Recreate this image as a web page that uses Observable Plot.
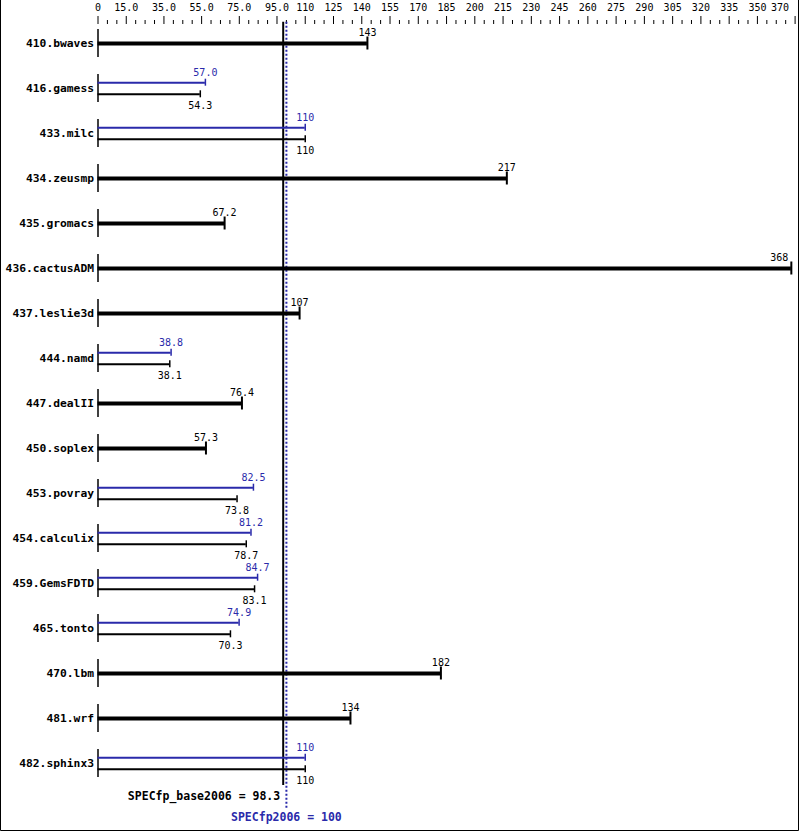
<!DOCTYPE html>
<html><head><meta charset="utf-8">
<script src="https://cdn.jsdelivr.net/npm/d3@7"></script>
<script src="https://cdn.jsdelivr.net/npm/@observablehq/plot@0.6"></script>
<style>
body{margin:0;background:#fff;}
svg{display:block;}
</style>
</head><body>
<div id="chart"></div>
<script>
const benchmarks = ["410.bwaves","416.gamess","433.milc","434.zeusmp","435.gromacs","436.cactusADM","437.leslie3d","444.namd","447.dealII","450.soplex","453.povray","454.calculix","459.GemsFDTD","465.tonto","470.lbm","481.wrf","482.sphinx3"];
const baseValues = [143,54.3,110,217,67.2,368,107,38.1,76.4,57.3,73.8,78.7,83.1,70.3,182,134,110];
const baseLabels = ["143","54.3","110","217","67.2","368","107","38.1","76.4","57.3","73.8","78.7","83.1","70.3","182","134","110"];
const peakValues = [null,57.0,110,null,null,null,null,38.8,null,null,82.5,81.2,84.7,74.9,null,null,110];
const peakLabels = [null,"57.0","110",null,null,null,null,"38.8",null,null,"82.5","81.2","84.7","74.9",null,null,"110"];
const tickValues = [0,15,35,55,75,95,110,125,140,155,170,185,200,215,230,245,260,275,290,305,320,335,350,370];
const tickLabels = ["0","15.0","35.0","55.0","75.0","95.0","110","125","140","155","170","185","200","215","230","245","260","275","290","305","320","335","350","370"];
const minorTicks = d3.range(5, 370, 5).filter(v => !tickValues.includes(v));
const specBase = 98.3, specPeak = 100;
const specBaseLabel = "SPECfp_base2006 = 98.3";
const specPeakLabel = "SPECfp2006 = 100";

const BLUE = "#2a2aaa";
const FONT = "DejaVu Sans Mono, monospace";
const off = 5.8/45;
const XMAX = 370;

const bars = [];
benchmarks.forEach((b, i) => {
  if (peakValues[i] == null) {
    bars.push({i, yy: i, v: baseValues[i], label: baseLabels[i], kind: "single"});
  } else {
    bars.push({i, yy: i - off, v: peakValues[i], label: peakLabels[i], kind: "peak"});
    bars.push({i, yy: i + off, v: baseValues[i], label: baseLabels[i], kind: "base"});
  }
});
const single = bars.filter(d => d.kind === "single");
const singleMid = single.filter(d => d.v < 355);
const singleEdge = single.filter(d => d.v >= 355);
const peak = bars.filter(d => d.kind === "peak");
const base = bars.filter(d => d.kind === "base");
const rows = benchmarks.map((b, i) => ({i, b}));
const majorMid = tickValues.slice(0, -1).map((v, k) => ({v, t: tickLabels[k]}));
const majorLast = [{v: tickValues[tickValues.length-1], t: tickLabels[tickLabels.length-1]}];

const chart = Plot.plot({
  width: 799, height: 831,
  marginTop: 23, marginLeft: 0, marginRight: 0, marginBottom: 0,
  style: {fontFamily: FONT, background: "#fff", overflow: "visible"},
  x: {domain: [0, XMAX], range: [97.5, 794.6], axis: null},
  y: {domain: [0, 16], range: [43, 763], axis: null},
  marks: [
    Plot.axisX({anchor: "top", ticks: minorTicks, tickSize: 4, tickFormat: () => "", label: null, strokeWidth: 1}),
    Plot.axisX({anchor: "top", ticks: tickValues, tickSize: 8, tickFormat: () => "", label: null, strokeWidth: 1}),
    Plot.text(majorMid, {x: "v", y: () => -0.8, text: "t", fontSize: 10, fill: "#000"}),
    Plot.text(majorLast, {x: "v", y: () => -0.8, text: "t", textAnchor: "end", dx: -6, fontSize: 10, fill: "#000"}),
    // row axis ticks
    Plot.ruleX(rows, {x: () => 0, y1: d => d.i - 0.31, y2: d => d.i + 0.31, stroke: "#000", strokeWidth: 1.5}),
    Plot.text(rows, {x: () => 0, y: "i", text: "b", textAnchor: "end", dx: -4, fontWeight: "bold", fontSize: 11.3, fill: "#000"}),
    // reference lines
    Plot.ruleX([specBase], {y1: -0.47, y2: 16.49, stroke: "#000", strokeWidth: 2}),
    Plot.ruleX([specPeak], {y1: -0.47, y2: 17.0, stroke: BLUE, strokeWidth: 2, strokeDasharray: "2,2"}),
    // single bars
    Plot.ruleY(single, {y: "yy", x1: () => 0, x2: "v", stroke: "#000", strokeWidth: 4}),
    Plot.ruleX(single, {x: "v", y1: d => d.yy - 6.5/45, y2: d => d.yy + 6.5/45, stroke: "#000", strokeWidth: 2}),
    Plot.text(singleMid, {x: "v", y: "yy", text: "label", dy: -11, fontSize: 10, fill: "#000"}),
    Plot.text(singleEdge, {x: "v", y: "yy", text: "label", dy: -11, dx: -3, textAnchor: "end", fontSize: 10, fill: "#000"}),
    // peak bars
    Plot.ruleY(peak, {y: "yy", x1: () => 0, x2: "v", stroke: BLUE, strokeWidth: 2}),
    Plot.ruleX(peak, {x: "v", y1: d => d.yy - 3.5/45, y2: d => d.yy + 3.5/45, stroke: BLUE, strokeWidth: 1.5}),
    Plot.text(peak, {x: "v", y: "yy", text: "label", dy: -10, fontSize: 10, fill: BLUE}),
    // base bars
    Plot.ruleY(base, {y: "yy", x1: () => 0, x2: "v", stroke: "#000", strokeWidth: 2}),
    Plot.ruleX(base, {x: "v", y1: d => d.yy - 3.5/45, y2: d => d.yy + 3.5/45, stroke: "#000", strokeWidth: 1.5}),
    Plot.text(base, {x: "v", y: "yy", text: "label", dy: 11.5, fontSize: 10, fill: "#000"}),
    // summary labels
    Plot.text([specBase], {x: d => d, y: () => 16.74, text: () => specBaseLabel, textAnchor: "end", dx: -3, fontWeight: "bold", fontSize: 11.5, fill: "#000"}),
    Plot.text([specPeak], {x: d => d, y: () => 17.2, text: () => specPeakLabel, textAnchor: "middle", fontWeight: "bold", fontSize: 11.5, fill: BLUE})
  ]
});
d3.select(chart).append("path")
  .attr("d", "M0.5,0 V830.5 H798.5 V0")
  .attr("fill", "none").attr("stroke", "#000").attr("stroke-width", 1);
document.getElementById("chart").appendChild(chart);
</script>
</body></html>
